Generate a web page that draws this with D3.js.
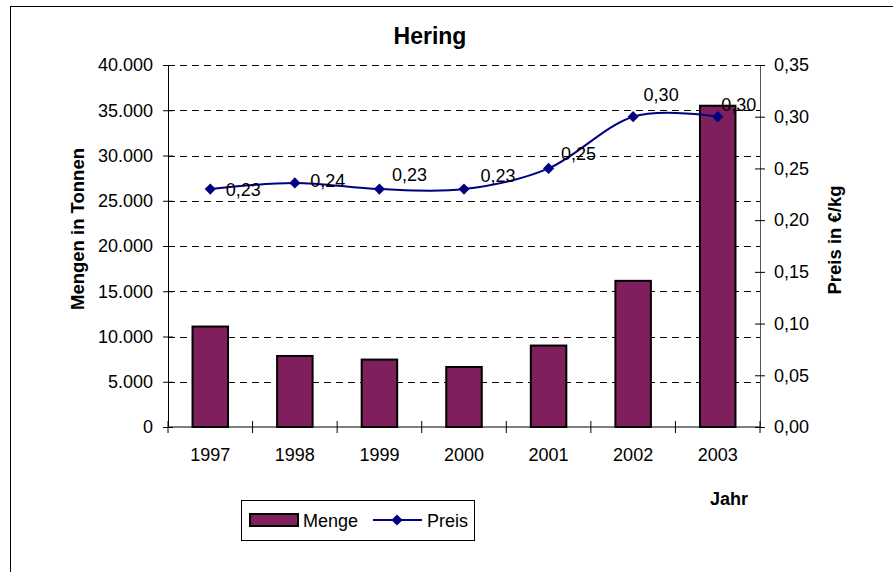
<!DOCTYPE html>
<html><head><meta charset="utf-8">
<script src="https://cdn.jsdelivr.net/npm/d3@7"></script>
<style>
body{margin:0;background:#fff;}
text{font-family:"Liberation Sans",Arial,sans-serif;}
</style></head>
<body>
<svg id="c" width="893" height="572"></svg>
<script>
const years = ["1997","1998","1999","2000","2001","2002","2003"];
const menge = [11100, 7850, 7450, 6630, 9000, 16150, 35500];
const preis = [0.23, 0.236, 0.23, 0.23, 0.25, 0.30, 0.30];
const mengeTicks = [0,5000,10000,15000,20000,25000,30000,35000,40000];
const preisTicks = [0,0.05,0.10,0.15,0.20,0.25,0.30,0.35];
const labelNudge = [[33,0],[33,-2],[30,-15],[34,-14],[30,-15],[28,-22],[21,-12]];

const svg = d3.select("#c");
const L = 168, R = 760, T = 65, B = 427;
const FS = 18;

// outer frame
svg.append("rect").attr("x",10.5).attr("y",6.5).attr("width",900).attr("height",600)
  .attr("fill","none").attr("stroke","#000").attr("stroke-width",1);

const x = d3.scaleBand().domain(years).range([L,R]).paddingInner(0.58).paddingOuter(0.29);
const y = d3.scaleLinear().domain([0,40000]).range([B,T]);
const y2 = d3.scaleLinear().domain([0,0.35]).range([B,T]);

const fmtDE = d3.formatLocale({decimal:",",thousands:".",grouping:[3],currency:["","€"]});
const fmtM = fmtDE.format(",.0f");
const fmtP = fmtDE.format(".2f");

// gridlines
svg.append("g").selectAll("line").data(mengeTicks.filter(d=>d>0)).join("line")
  .attr("x1",L).attr("x2",R).attr("y1",d=>Math.round(y(d))+0.5).attr("y2",d=>Math.round(y(d))+0.5)
  .attr("stroke","#000").attr("stroke-width",1).attr("stroke-dasharray","7,5");

// bars
svg.append("g").selectAll("rect").data(years).join("rect")
  .attr("x",d=>x(d)).attr("width",x.bandwidth())
  .attr("y",(d,i)=>y(menge[i])).attr("height",(d,i)=>B-y(menge[i]))
  .attr("fill","#7f1f5b").attr("stroke","#000").attr("stroke-width",2);

// left axis
const gl = svg.append("g").attr("transform",`translate(${L},0)`)
  .call(d3.axisLeft(y).tickValues(mengeTicks).tickFormat(fmtM).tickSize(5).tickPadding(10));
gl.selectAll(".tick line").attr("x2",5).attr("x1",-5);
// right axis
const gr = svg.append("g").attr("transform",`translate(${R},0)`)
  .call(d3.axisRight(y2).tickValues(preisTicks).tickFormat(fmtP).tickSize(5).tickPadding(9));
gr.selectAll(".tick line").attr("x1",-5).attr("x2",5);
// bottom axis
const xs = d3.scalePoint().domain(d3.range(8)).range([L,R]);
const gb = svg.append("g").attr("transform",`translate(0,${B})`);
gb.append("line").attr("x1",L).attr("x2",R).attr("stroke","#000");
gb.selectAll(".t").data(d3.range(8)).join("line").attr("class","t")
  .attr("x1",d=>xs(d)).attr("x2",d=>xs(d)).attr("y1",-6).attr("y2",6).attr("stroke","#000");
gb.selectAll("text").data(years).join("text")
  .attr("x",d=>x(d)+x.bandwidth()/2).attr("y",34).attr("text-anchor","middle")
  .attr("font-size",FS).attr("fill","#000").text(d=>d);

[gl,gr].forEach(g=>{
  g.select(".domain").attr("stroke","#000").attr("stroke-width",1);
  g.selectAll(".tick line").attr("stroke","#000");
  g.selectAll("text").attr("font-size",FS).attr("fill","#000").attr("font-family","Liberation Sans, Arial, sans-serif");
});
gr.select(".domain").attr("stroke","#555");

// line
const line = d3.line().x((d,i)=>x(years[i])+x.bandwidth()/2).y(d=>y2(d)).curve(d3.curveCardinal.tension(0));
svg.append("path").datum(preis).attr("d",line).attr("fill","none").attr("stroke","#000080").attr("stroke-width",2);
const sym = d3.symbol().type(d3.symbolDiamond2).size(80);
svg.append("g").selectAll("path").data(preis).join("path")
  .attr("transform",(d,i)=>`translate(${x(years[i])+x.bandwidth()/2},${y2(d)})`)
  .attr("d",sym).attr("fill","#000080");
svg.append("g").selectAll("text").data(preis).join("text")
  .attr("x",(d,i)=>x(years[i])+x.bandwidth()/2+labelNudge[i][0])
  .attr("y",(d,i)=>y2(d)+labelNudge[i][1]+6.5)
  .attr("text-anchor","middle").attr("font-size",FS).attr("fill","#000")
  .text(d=>fmtP(d));

// titles
svg.append("text").attr("x",430).attr("y",44).attr("text-anchor","middle")
  .attr("font-size",23).attr("font-weight","bold").text("Hering");
svg.append("text").attr("transform","translate(84,229) rotate(-90)").attr("text-anchor","middle")
  .attr("font-size",18.5).attr("font-weight","bold").text("Mengen in Tonnen");
svg.append("text").attr("transform","translate(841,240) rotate(-90)").attr("text-anchor","middle")
  .attr("font-size",18.5).attr("font-weight","bold").text("Preis in €/kg");
svg.append("text").attr("x",729).attr("y",505).attr("text-anchor","middle")
  .attr("font-size",18).attr("font-weight","bold").text("Jahr");

// legend
const lg = svg.append("g");
lg.append("rect").attr("x",241.5).attr("y",500.5).attr("width",233).attr("height",40)
  .attr("fill","#fff").attr("stroke","#000");
lg.append("rect").attr("x",250).attr("y",514).attr("width",48).attr("height",12)
  .attr("fill","#7f1f5b").attr("stroke","#000").attr("stroke-width",2);
lg.append("text").attr("x",303).attr("y",527).attr("font-size",FS).text("Menge");
lg.append("line").attr("x1",373).attr("x2",422).attr("y1",520).attr("y2",520).attr("stroke","#000080").attr("stroke-width",2);
lg.append("path").attr("transform","translate(397,520)").attr("d",sym).attr("fill","#000080");
lg.append("text").attr("x",427).attr("y",527).attr("font-size",FS).text("Preis");
</script>
</body></html>
